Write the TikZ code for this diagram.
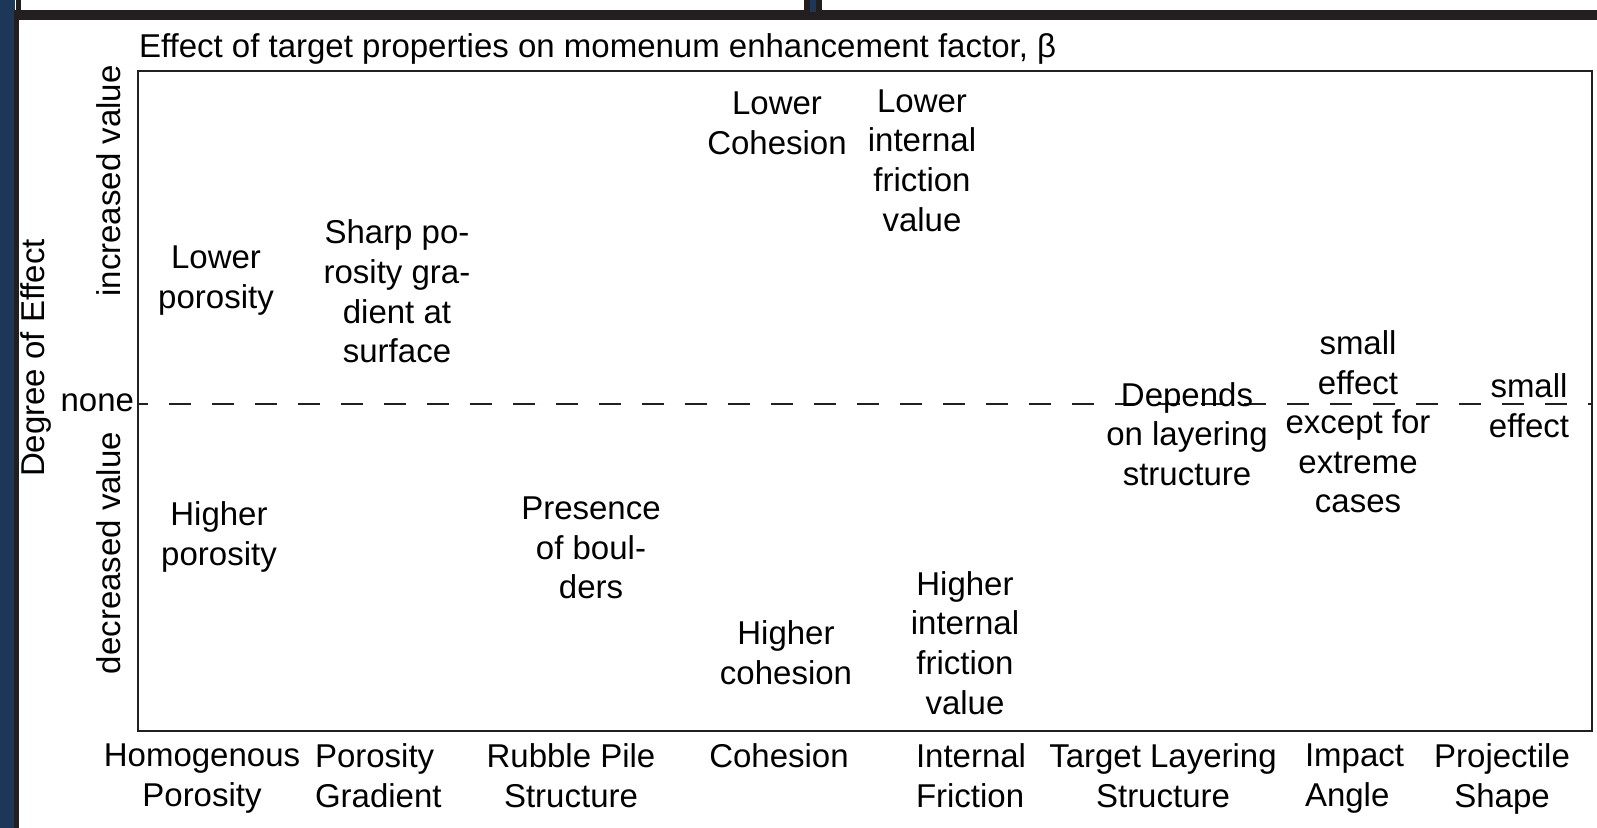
\documentclass[tikz,border=0pt]{standalone}
\usepackage{fontspec}
\setmainfont{Liberation Sans}
\definecolor{navy}{RGB}{29,55,88}
\definecolor{barblack}{RGB}{35,31,32}
\begin{document}
\begin{tikzpicture}[x=0.5pt,y=-0.5pt,
  every node/.style={font=\fontsize{16.5}{19.8}\selectfont, inner sep=0pt, outer sep=0pt},
  lbl/.style={align=center},
  lleft/.style={align=left, anchor=west},
  frameline/.style={draw=barblack, line width=1.25pt},
  zeroline/.style={draw=barblack, line width=1pt, dash pattern=on 11pt off 10.5pt, dash phase=6pt}]
\useasboundingbox (0,0) rectangle (1597,828);
% window chrome
\fill[white] (0,0) rectangle (1597,828);
\fill[navy] (0,0) rectangle (15,828);
\fill[barblack] (14,10) rectangle (19,828);
\fill[barblack] (16,0) rectangle (21,10);
\fill[barblack] (14,10) rectangle (1597,20);
\fill[barblack] (804,0) rectangle (822,10);
\fill[navy] (810,0) rectangle (816,12);
% frame
\coordinate (fl) at (138,404);
\coordinate (fr) at (1592,404);
\draw[frameline] (138,71) rectangle (1592,731);
\draw[zeroline] (fl) -- (fr);
% title and axis labels
\node[anchor=base west] (title) at (139,58) {Effect of target properties on momenum enhancement factor, β};
\node[rotate=90] (deg) at (36,358) {Degree of Effect};
\node[rotate=90] (inc) at (109,181) {increased value};
\node[rotate=90] (dec) at (109,553) {decreased value};
\node[anchor=east] (none) at (134,403) {none};
% inner texts
\node[lbl] (lp) at (216,280.5) {Lower\\porosity};
\node[lbl] (hp) at (219,537) {Higher\\porosity};
\node[lbl] (sp) at (397,291.5) {Sharp po-\\rosity gra-\\dient at\\surface};
\node[lbl] (pb) at (591,548) {Presence\\of boul-\\ders};
\node[lbl] (lc) at (777,123.5) {Lower\\Cohesion};
\node[lbl] (lf) at (922,160.5) {Lower\\internal\\friction\\value};
\node[lbl] (hc) at (786,653) {Higher\\cohesion};
\node[lbl] (hf) at (965,643) {Higher\\internal\\friction\\value};
\node[lbl] (dl) at (1187,434) {Depends\\on layering\\structure};
\node[lbl] (se) at (1358,422) {small\\effect\\except for\\extreme\\cases};
\node[lbl] (se2) at (1529,406) {small\\effect};
% category labels
\node[lbl] (c1) at (202,778.5) {Homogenous\\Porosity};
\node[lleft] (c2) at (315,776) {Porosity\\Gradient};
\node[lbl] (c3) at (571,776) {Rubble Pile\\Structure};
\node[lbl] (c4) at (779,756) {Cohesion};
\node[lleft] (c5) at (916,776) {Internal\\Friction};
\node[lbl] (c6) at (1163,776) {Target Layering\\Structure};
\node[lleft] (c7) at (1305,778.5) {Impact\\Angle};
\node[lbl] (c8) at (1502,779) {Projectile\\Shape};
\end{tikzpicture}
\end{document}
